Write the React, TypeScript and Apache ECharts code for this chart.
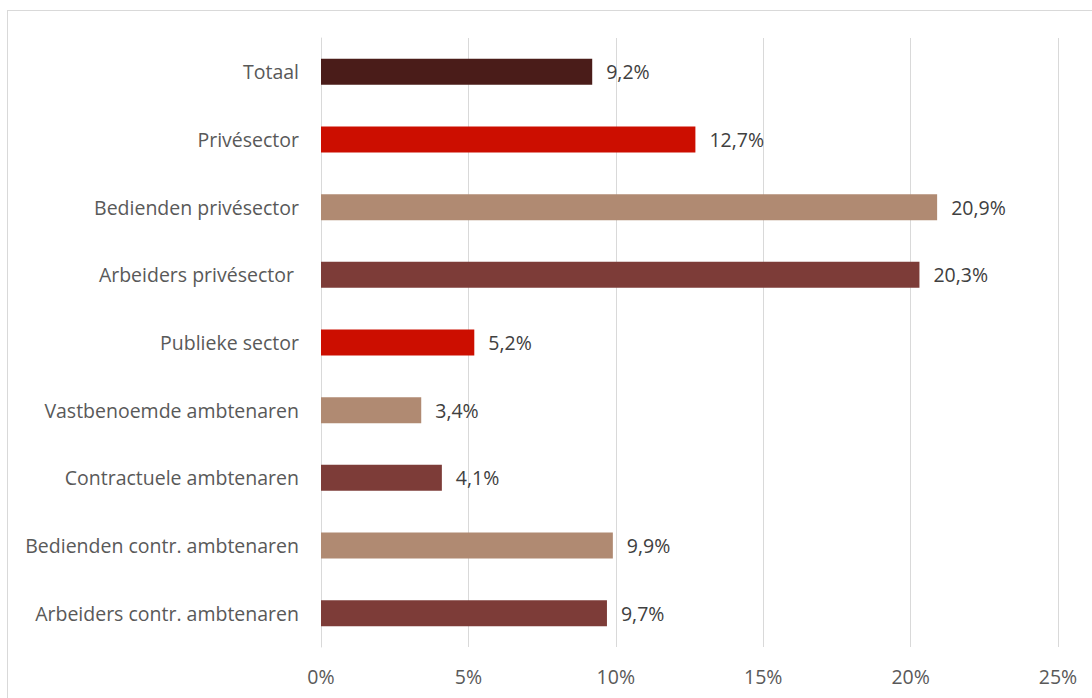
import React, { useEffect, useRef } from "react";
import * as echarts from "echarts";

const categories = [
  "Totaal",
  "Privésector",
  "Bedienden privésector",
  "Arbeiders privésector ",
  "Publieke sector",
  "Vastbenoemde ambtenaren",
  "Contractuele ambtenaren",
  "Bedienden contr. ambtenaren",
  "Arbeiders contr. ambtenaren",
];
const values = [9.2, 12.7, 20.9, 20.3, 5.2, 3.4, 4.1, 9.9, 9.7];
const barColors = [
  "#4a1c19",
  "#cc0e00",
  "#b08a72",
  "#7d3c38",
  "#cc0e00",
  "#b08a72",
  "#7d3c38",
  "#b08a72",
  "#7d3c38",
];
const xMin = 0;
const xMax = 25;
const xStep = 5;

const FONT = "'Open Sans', 'Noto Sans', sans-serif";
const FS = 19.5;

export default function App() {
  const ref = useRef<HTMLDivElement>(null);
  useEffect(() => {
    if (!ref.current) return;
    const chart = echarts.init(ref.current, null, { renderer: "svg" });
    chart.setOption({
      animation: false,
      grid: { left: 321, right: 34, top: 38, bottom: 51, containLabel: false },
      xAxis: {
        type: "value",
        min: xMin,
        max: xMax,
        interval: xStep,
        axisLine: { show: false },
        axisTick: { show: false },
        splitLine: { show: true, lineStyle: { color: "#d9d9d9", width: 1 } },
        axisLabel: {
          formatter: (v: number) => `${v}%`,
          color: "#595959",
          fontSize: FS,
          fontFamily: FONT,
          margin: 19,
        },
      },
      yAxis: {
        type: "category",
        data: categories,
        inverse: true,
        axisLine: { show: true, lineStyle: { color: "#d9d9d9", width: 1 } },
        axisTick: { show: false },
        axisLabel: {
          color: "#595959",
          fontSize: FS,
          fontFamily: FONT,
          margin: 22,
        },
      },
      series: [
        {
          type: "bar",
          barWidth: 26,
          data: values.map((v, i) => ({
            value: v,
            itemStyle: { color: barColors[i] },
          })),
          label: {
            show: true,
            position: "right",
            distance: 14,
            formatter: (p: any) => `${Number(p.value).toFixed(1).replace(".", ",")}%`,
            color: "#404040",
            fontSize: FS,
            fontFamily: FONT,
          },
        },
      ],
    });
    return () => chart.dispose();
  }, []);
  return (
    <div style={{ position: "absolute", left: 0, top: 0, width: 1092, height: 698, overflow: "hidden", background: "#fff" }}>
      <div
        style={{
          position: "absolute",
          left: 7,
          top: 10,
          width: 1100,
          height: 700,
          border: "1px solid #d9d9d9",
          boxSizing: "border-box",
        }}
      />
      <div ref={ref} style={{ position: "absolute", left: 0, top: 0, width: 1092, height: 698 }} />
    </div>
  );
}
